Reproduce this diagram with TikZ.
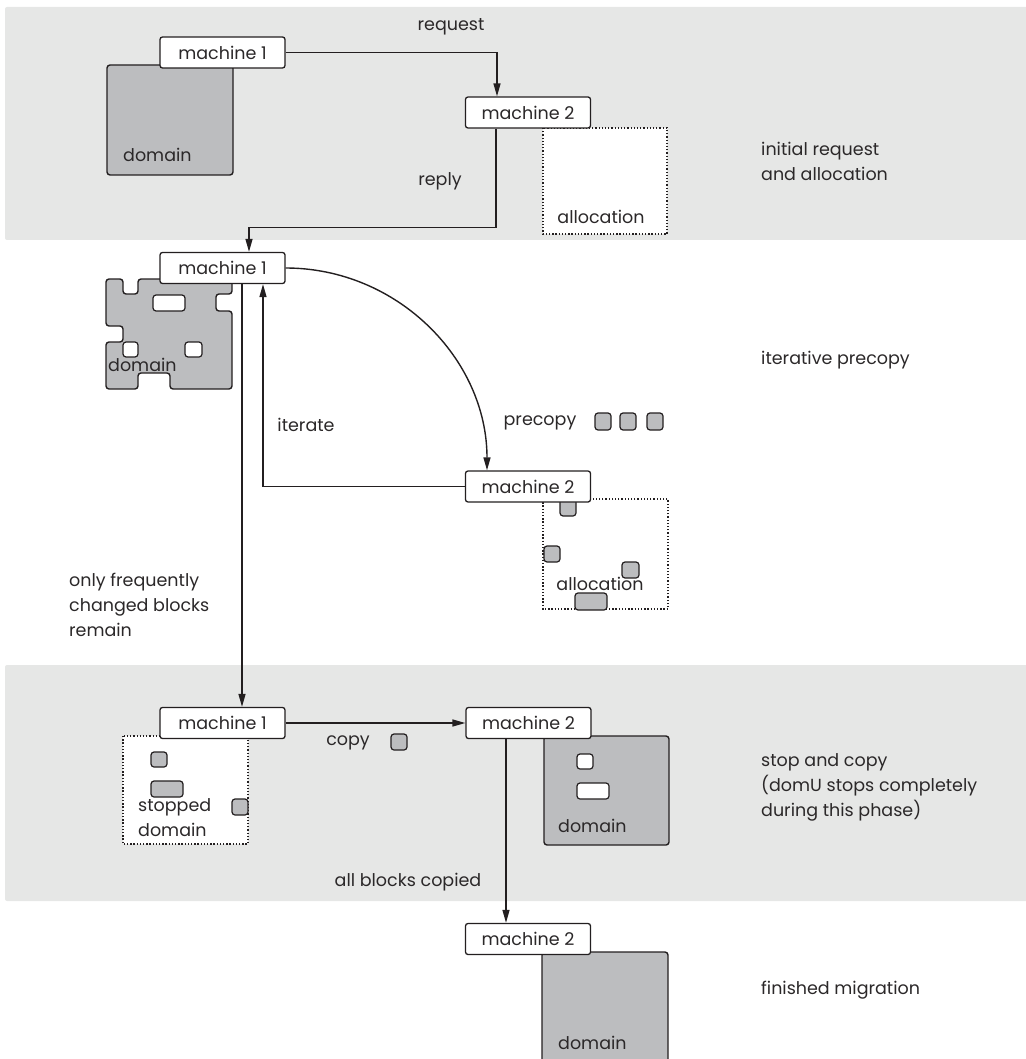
\documentclass[tikz,border=0pt]{standalone}
\usepackage{fontspec}
\setmainfont{Poppins}
\usetikzlibrary{arrows.meta,positioning,calc}
\definecolor{migBand}{RGB}{230,231,230}
\definecolor{migDomain}{RGB}{188,189,191}
\definecolor{migLine}{RGB}{35,31,32}
\definecolor{migText}{RGB}{43,40,41}

\begin{document}
\begin{tikzpicture}[x=1pt,y=-1pt,
  machine/.style={draw=migLine, line width=1.3pt, rounded corners=2.5pt, fill=white, minimum width=125pt, minimum height=31pt, inner sep=0pt, text=migText, font=\fontsize{17.5}{25}\selectfont},
  lbl/.style={text=migText, font=\fontsize{17.5}{25}\selectfont, inner sep=0pt, align=left},
  conn/.style={migLine, line width=1.4pt, -{Triangle[length=13pt,width=7pt]}},
  domainbox/.style={draw=migLine, fill=migDomain, line width=1.4pt, rounded corners=3pt},
  allocbox/.style={draw=migLine, fill=white, line width=1.3pt, dash pattern=on 1.3pt off 1.9pt},
  blk/.style={draw=migLine, fill=migDomain, line width=1.2pt, rounded corners=3pt},
  hole/.style={draw=migLine, fill=white, line width=1.2pt, rounded corners=3pt}]
\useasboundingbox (0,0) rectangle (1025,1059);
\fill[migBand, rounded corners=2pt] (5,7) rectangle (1030,240);
\fill[migBand, rounded corners=2pt] (5,665) rectangle (1030,901);

\draw[domainbox] (107,65) rectangle (233,175);
\node[lbl, anchor=west] (doma) at (123,155) {domain};
\draw[allocbox] (543,128) rectangle (667,234);
\node[lbl] (alloca) at (601,217) {allocation};
\node[machine] (m1a) at (222.5,52.5) {machine 1};
\node[machine] (m2a) at (528,112.5) {machine 2};
\draw[conn] (m1a.east) -| ([xshift=-31pt]m2a.north);
\node[lbl] (req) at (451,27) {request};
\node[lbl] (rep) at (440,181) {reply};
\node[lbl, anchor=west] (phasea) at (761,161.5) {initial request\\and allocation};

\draw[domainbox] (106,279) -- (123,279) -- (123,294) -- (138,294) -- (138,279) -- (232,279) -- (232,294) -- (216,294) -- (216,311) -- (232,311) -- (232,389) -- (170,389) -- (170,373) -- (138,373) -- (138,389) -- (106,389) -- (106,342) -- (123,342) -- (123,326) -- (106,326) -- cycle;
\draw[hole] (153,295) rectangle (185,311);
\draw[hole] (185,342) rectangle (202,357);
\draw[hole] (123,342) rectangle (138,357);
\node[lbl, anchor=west] (domb) at (108,365) {domain};
\draw[allocbox] (543,499) rectangle (668,609);
\draw[blk] (560,494) rectangle (576,516);
\draw[blk] (544,546) rectangle (560,562);
\draw[blk] (622,562) rectangle (639,578);
\node[lbl] (allocb) at (600,584) {allocation};
\draw[blk] (575,593) rectangle (607,610);
\node[machine] (m1b) at (222.5,268) {machine 1};
\node[machine] (m2b) at (528,486.5) {machine 2};
\draw[conn] ([xshift=-32pt]m2a.south) -- ++(0,99) -| ([xshift=26.5pt]m1b.north);
\draw[conn] (m1b.east) .. controls +(112,0) and +(0,-111) .. ([xshift=-41pt]m2b.north);
\draw[conn] (m2b.west) -| ([xshift=40.5pt]m1b.south);
\node[lbl] (iter) at (306,425) {iterate};
\node[lbl] (pre) at (540,423) {precopy};
\foreach \x in {603,628,655}
{
\draw[blk] (\x-8,413) rectangle (\x+8,430);
}
\node[lbl, anchor=west] (phaseb) at (761,360) {iterative precopy};
\node[lbl, anchor=west] (remain) at (69,605) {only frequently\\changed blocks\\remain};

\draw[allocbox] (123,736) rectangle (248,844);
\draw[blk] (151,752) rectangle (167,767);
\draw[blk] (151,781) rectangle (183,797);
\draw[blk] (232,799) rectangle (248,815);
\node[lbl, anchor=west] (stopd) at (138,817.5) {stopped\\domain};
\draw[domainbox] (544,736) rectangle (669,845);
\draw[hole] (577,754) rectangle (593,769);
\draw[hole] (577,783) rectangle (609,799);
\node[lbl, anchor=west] (domc) at (558,826) {domain};
\node[machine] (m1c) at (222.5,723) {machine 1};
\node[machine] (m2c) at (528.5,723) {machine 2};
\draw[conn] ([xshift=19.5pt]m1b.south) -- ([xshift=19.5pt]m1c.north);
\draw[conn] (m1c.east) -- (m2c.west);
\node[lbl] (cpy) at (348,743) {copy};
\draw[blk] (391,734) rectangle (407,750);
\node[lbl] (allc) at (408,882) {all blocks copied};
\node[lbl, anchor=west] (phasec) at (761,787) {stop and copy\\(domU stops completely\\during this phase)};

\draw[domainbox] (542,1070) -- (542,952) -- (668,952) -- (668,1070);
\node[lbl, anchor=west] (domd) at (558,1043) {domain};
\node[machine] (m2d) at (528,939) {machine 2};
\draw[conn] ([xshift=-22.5pt]m2c.south) -- ([xshift=-22pt]m2d.north);
\node[lbl, anchor=west] (phased) at (761,990) {finished migration};
\end{tikzpicture}
\end{document}
